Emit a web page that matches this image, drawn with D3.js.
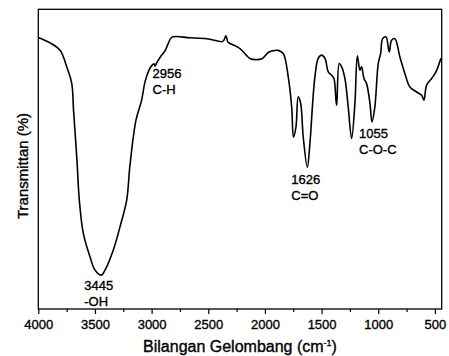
<!DOCTYPE html>
<html>
<head>
<meta charset="utf-8">
<script src="https://cdn.jsdelivr.net/npm/d3@7"></script>
<style>
  body { margin: 0; background: #fff; }
  text { font-family: "Liberation Sans", Arial, sans-serif; fill: #000; stroke: #000; stroke-width: 0.35px; }
</style>
</head>
<body>
<svg id="chart" width="449" height="356"></svg>
<script>
// FTIR spectrum (wavenumber in cm-1, transmittance in arbitrary %)
var wavenumber = [4000, 3897, 3808, 3749, 3705, 3689, 3659, 3638, 3603, 3544, 3500, 3445, 3411, 3338, 3279, 3220, 3191, 3138, 3088, 3059, 3023, 2997, 2979, 2970, 2953, 2923, 2879, 2853, 2820, 2662, 2512, 2379, 2362, 2344, 2326, 2309, 2220, 2132, 2079, 2026, 1971, 1929, 1882, 1838, 1794, 1764, 1748, 1726, 1706, 1685, 1662, 1626, 1603, 1579, 1559, 1530, 1500, 1470, 1441, 1411, 1391, 1373, 1366, 1344, 1323, 1294, 1265, 1235, 1206, 1184, 1162, 1147, 1126, 1103, 1073, 1055, 1030, 1000, 979, 961, 932, 903, 882, 853, 809, 765, 721, 661, 617, 597, 573, 529, 491, 447];
var transmittance = [90.6, 88.8, 86.3, 80.8, 75.3, 66.3, 49.7, 36.3, 25.3, 17.4, 13.0, 11.3, 13.0, 19.7, 27.4, 36.3, 48.0, 63.0, 69.7, 75.7, 79.7, 81.3, 81.8, 81.0, 82.3, 84.1, 86.3, 88.6, 90.7, 90.5, 90.2, 89.2, 89.7, 91.2, 89.0, 88.6, 86.9, 83.6, 83.2, 83.5, 85.6, 86.2, 86.3, 85.2, 77.4, 67.4, 57.3, 60.8, 70.8, 68.7, 57.4, 47.3, 55.2, 68.6, 77.4, 83.6, 84.7, 83.6, 79.1, 78.0, 76.9, 69.7, 68.0, 81.9, 80.8, 76.9, 67.4, 56.9, 68.6, 84.5, 79.7, 80.8, 76.9, 75.2, 68.6, 62.4, 67.4, 81.9, 85.2, 90.2, 90.8, 85.8, 89.7, 90.2, 84.1, 78.6, 74.1, 72.4, 71.3, 69.7, 74.7, 76.9, 79.1, 83.7];

var peakWn = [3445, 2956, 1626, 1055];
var peakNames = ['-OH', 'C-H', 'C=O', 'C-O-C'];

var majorTicks = [4000, 3500, 3000, 2500, 2000, 1500, 1000, 500];
var minorTicks = [3750, 3250, 2750, 2250, 1750, 1250, 750];

var xTitle = 'Bilangan Gelombang (cm';
var yTitle = 'Transmittan (%)';

var svg = d3.select('#chart');
var plotLeft = 38.3, plotRight = 441.7, plotTop = 9.3, plotBottom = 309;

var x = d3.scaleLinear().domain([4000, 440]).range([plotLeft, plotRight]);
var y = d3.scaleLinear().domain([0, 100]).range([plotBottom, plotTop]);

var points = wavenumber.map(function(w, i) { return [w, transmittance[i]]; });

/* minor ticks first, then the major ones with labels */
svg.append('g')
  .attr('transform', 'translate(0,' + plotBottom + ')')
  .call(d3.axisBottom(x).tickValues(minorTicks).tickSize(3).tickFormat(''))
  .call(function(g) { g.select('.domain').remove(); })
  .selectAll('line').attr('stroke', '#000').attr('stroke-width', 1.2);

var xAxis = svg.append('g')
  .attr('transform', 'translate(0,' + plotBottom + ')')
  .call(d3.axisBottom(x).tickValues(majorTicks).tickSize(5).tickPadding(6).tickFormat(d3.format('d')));
xAxis.select('.domain').remove();
xAxis.selectAll('line').attr('stroke', '#000').attr('stroke-width', 1.2);
xAxis.selectAll('text')
  .style('font-size', '13px')
  .style('font-family', '"Liberation Sans", Arial, sans-serif')
  .attr('fill', '#000');

// plot frame
svg.append('rect')
  .attr('x', plotLeft).attr('y', plotTop)
  .attr('width', plotRight - plotLeft).attr('height', plotBottom - plotTop)
  .attr('fill', 'none').attr('stroke', '#000').attr('stroke-width', 1.3);

// spectrum
var line = d3.line()
  .x(function(d) { return x(d[0]); })
  .y(function(d) { return y(d[1]); })
  .curve(d3.curveCatmullRom.alpha(0.5));

svg.append('path')
  .datum(points)
  .attr('d', line)
  .attr('fill', 'none')
  .attr('stroke', '#000')
  .attr('stroke-width', 1.6)
  .attr('stroke-linejoin', 'round');

// peak labels
var labelDx = [-17, -4, -16, -13];
var labelDy = [15, 16, 17, 16];
peakWn.forEach(function(w, i) {
  var near = points.reduce(function(a, b) { return Math.abs(b[0] - w) < Math.abs(a[0] - w) ? b : a; });
  var tx = x(w) + labelDx[i];
  var ty = y(near[1]) + labelDy[i];
  var t = svg.append('text').attr('x', tx).attr('y', ty).style('font-size', '13px');
  t.append('tspan').attr('x', tx).text(w);
  t.append('tspan').attr('x', tx).attr('dy', 16).text(peakNames[i]);
});

// axis titles
var xt = svg.append('text')
  .attr('x', (plotLeft + plotRight) / 2)
  .attr('y', 352)
  .attr('text-anchor', 'middle')
  .style('font-size', '16px')
  .text(xTitle);
xt.append('tspan').attr('dy', -6).style('font-size', '9px').text('-1');
xt.append('tspan').attr('dy', 6).text(')');

svg.append('text')
  .attr('transform', 'translate(28,166) rotate(-90)')
  .attr('text-anchor', 'middle')
  .style('font-size', '15px')
  .text(yTitle);
</script>
</body>
</html>
